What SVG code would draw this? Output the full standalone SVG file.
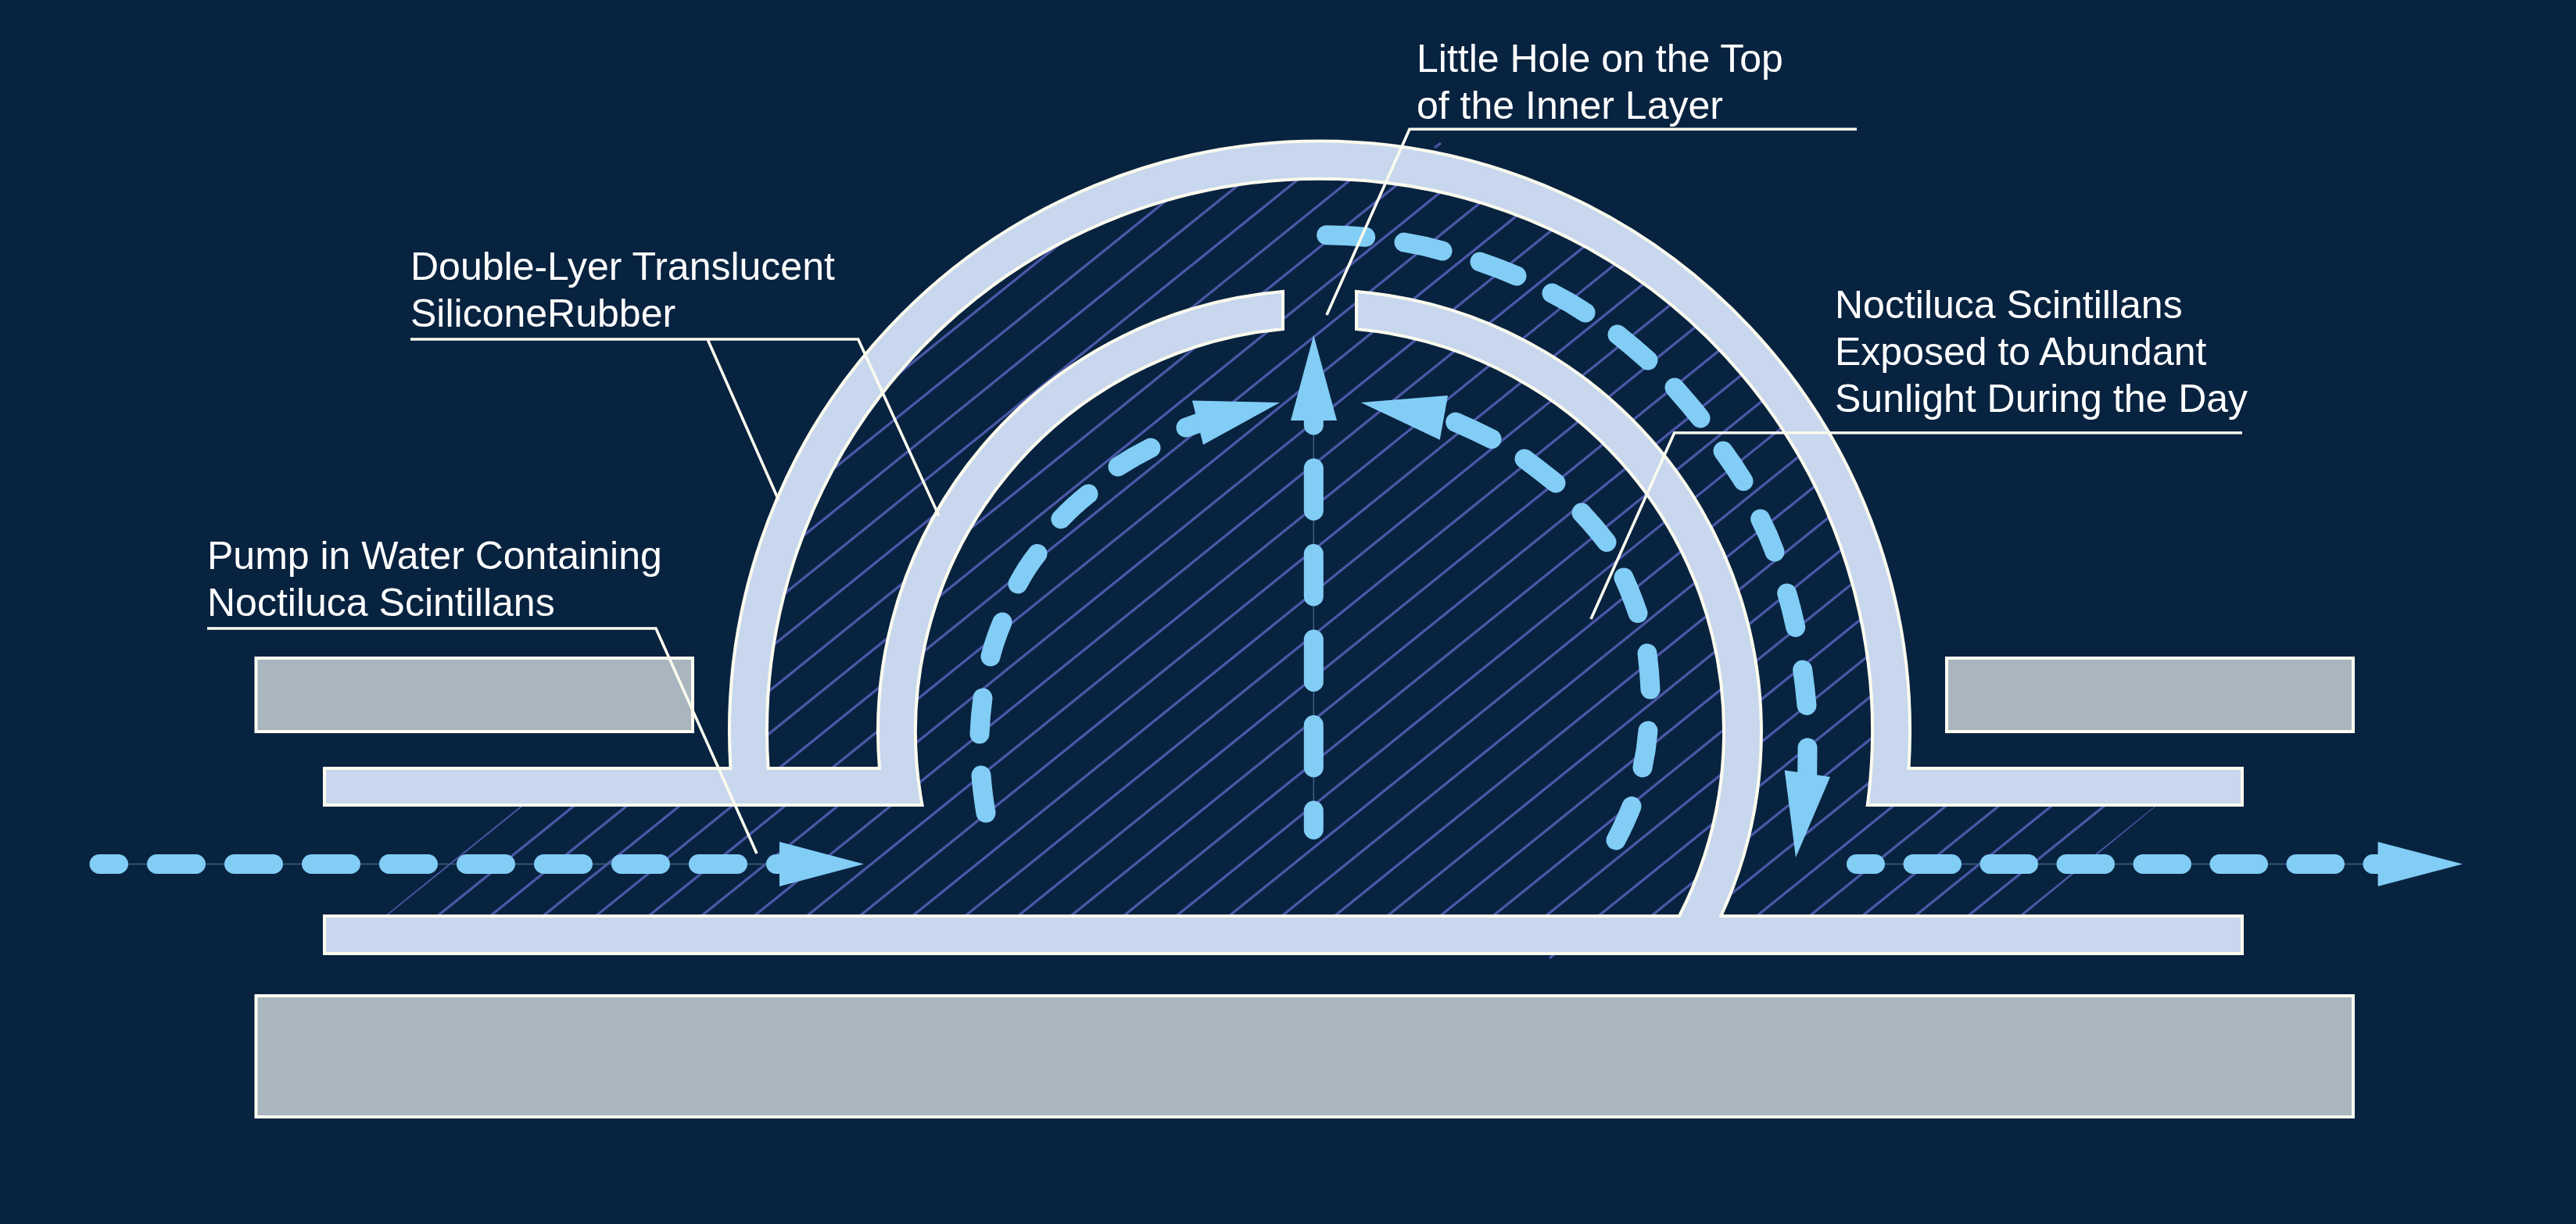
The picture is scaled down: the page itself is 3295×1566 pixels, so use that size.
<svg xmlns="http://www.w3.org/2000/svg" width="3295" height="1566" viewBox="0 0 3295 1566">
<style>
.block{fill:#a9b6bf;stroke:#fbfbf0;stroke-width:4}
.wall{fill:#c8d7ee;stroke:#fbfbee;stroke-width:4;stroke-linejoin:miter}
.hatch{fill:none;stroke:#4b57a6;stroke-width:3.3}
.flow{fill:none;stroke:#81cdf5;stroke-width:25;stroke-linecap:round}
.thin{fill:none;stroke:#3f6080;stroke-width:1.5}
.head{fill:#81cdf5}
.leader{fill:none;stroke:#fbfbee;stroke-width:3.6;stroke-linejoin:miter}
.label{font-family:"Liberation Sans",Arial,sans-serif;font-size:50px;fill:#ffffff}
</style>
<defs>
<clipPath id="hatchClip">
<path d="M981 936A707 707 0 0 1 2395 936V1172H981Z"/>
<path d="M492 1172L665 1032H2757L2587 1172Z"/>
</clipPath>
</defs>
<rect width="3295" height="1566" fill="#082340"/>
<g id="hatching" clip-path="url(#hatchClip)">
<path class="hatch" d="M222 1172l1205 -972M289.5 1172l1205 -972M357 1172l1205 -972M424.5 1172l1205 -972M492 1172l1205 -972M559.5 1172l1205 -972M627 1172l1205 -972M694.5 1172l1205 -972M762 1172l1205 -972M829.5 1172l1205 -972M897 1172l1205 -972M964.5 1172l1205 -972M1032 1172l1205 -972M1099.5 1172l1205 -972M1167 1172l1205 -972M1234.5 1172l1205 -972M1302 1172l1205 -972M1369.5 1172l1205 -972M1437 1172l1205 -972M1504.5 1172l1205 -972M1572 1172l1205 -972M1639.5 1172l1205 -972M1707 1172l1205 -972M1774.5 1172l1205 -972M1842 1172l1205 -972M1909.5 1172l1205 -972M1977 1172l1205 -972M2044.5 1172l1205 -972M2112 1172l1205 -972M2179.5 1172l1205 -972M2247 1172l1205 -972M2314.5 1172l1205 -972M2382 1172l1205 -972M2449.5 1172l1205 -972M2517 1172l1205 -972M2584.5 1172l1205 -972"/>
</g>
<path class="hatch" d="M1982 1226l10 -8M1835 189l8 -6"/>
<g id="block-top-left"><rect class="block" x="327.5" y="842" width="558.5" height="94"/></g>
<g id="block-top-right"><rect class="block" x="2490" y="842" width="520" height="94"/></g>
<g id="block-bottom"><rect class="block" x="327.5" y="1274" width="2682.5" height="155"/></g>
<g id="upper-layer"><path class="wall" d="M415 983H934.5A755 755 0 1 1 2441.5 983H2868V1030H2388.7A707 707 0 1 0 982.6 983H1125A565 565 0 0 1 1641 373V421A517 517 0 0 0 1179.6 1030H415Z"/></g>
<g id="lower-layer"><path class="wall" d="M415 1172H2148A517 517 0 0 0 1735 421V373A565 565 0 0 1 2201.3 1172H2868V1220H415Z"/></g>
<g id="connectors">
<path class="thin" d="M127 1105.5H997M2374 1105.5H3042M1680.3 1061V538"/>
<path class="flow" d="M127 1105.5H997" stroke-dasharray="50 49" stroke-dashoffset="25.5"/>
<polygon class="head" points="997,1077 1105,1105.5 997,1134"/>
<path class="flow" d="M2374.5 1105.5H3041" stroke-dasharray="49.5 48.5" stroke-dashoffset="25.5"/>
<polygon class="head" points="3041.6,1077 3150,1105.5 3041.6,1134"/>
<path class="flow" d="M1680.3 1061.5V538" stroke-dasharray="54.5 55" stroke-dashoffset="30"/>
<polygon class="head" points="1680.3,429 1710,538 1651,538"/>
<path class="flow" d="M1261 1040Q1257 1017 1255 992M1253 939Q1254 916 1257 893M1267 840Q1273 817 1282 796M1302 747Q1313 726 1327 708.5M1357 664Q1373 647 1392 632M1430 597Q1450 584 1472 573M1517 547L1545 537"/>
<polygon class="head" points="1525,512.4 1637,515 1539,569"/>
<path class="flow" d="M2067 1075Q2079 1052 2087 1031.6M2101 982Q2106 959 2108 935M2111 882Q2110 859 2107 836M2095 784.5Q2087 761 2077 739M2055 693.5Q2040 674 2023 656M1990 618Q1970 602 1950 587M1908 561.7Q1885 550 1861.7 540"/>
<polygon class="head" points="1740.7,515 1852,506 1841.7,562.7"/>
<path class="flow" d="M1696.7 300.7Q1722 301 1746.7 303.3M1796 310Q1821 314 1845 321M1893 335Q1917 343 1940 353M1985 375Q2007 386 2028 400M2069 428Q2089 444 2108 461M2142 496Q2159 515 2175 535M2204 577Q2218 596 2230 615.5M2251.7 664Q2262 684 2270 706M2285.7 759Q2292 780 2296.7 802.5M2305.7 857Q2309 880 2311 902.5M2312 956.7L2311.7 992"/>
<polygon class="head" points="2282.7,985.6 2341,994 2297,1097"/>
</g>
<g id="label-hole">
<path class="leader" d="M2375 165.3H1803L1697 403"/>
<text class="label" x="1812" y="91.7">Little Hole on the Top</text>
<text class="label" x="1812" y="151.7">of the Inner Layer</text>
</g>
<g id="label-silicone">
<path class="leader" d="M525 434H1097.7L1201 660M905 434L996 640"/>
<text class="label" x="525" y="358">Double-Lyer Translucent</text>
<text class="label" x="525" y="418">SiliconeRubber</text>
</g>
<g id="label-sunlight">
<path class="leader" d="M2868 553.8H2141.7L2035 792"/>
<text class="label" x="2347" y="407">Noctiluca Scintillans</text>
<text class="label" x="2347" y="467">Exposed to Abundant</text>
<text class="label" x="2347" y="527">Sunlight During the Day</text>
</g>
<g id="label-pump">
<path class="leader" d="M265 804H839L968 1092"/>
<text class="label" x="265" y="728">Pump in Water Containing</text>
<text class="label" x="265" y="788">Noctiluca Scintillans</text>
</g>
</svg>
